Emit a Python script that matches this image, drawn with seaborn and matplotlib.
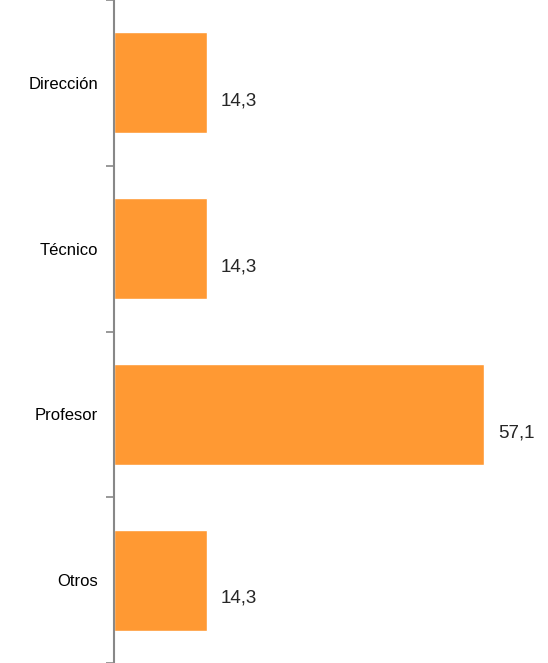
import pandas as pd
import numpy as np
import matplotlib
matplotlib.use('Agg')
import matplotlib.pyplot as plt
import seaborn as sns
from matplotlib.ticker import FixedLocator

# datos
categorias = ['Dirección', 'Técnico', 'Profesor', 'Otros']
valores = [14.3, 14.3, 57.1, 14.3]
etiquetas = ['14,3', '14,3', '57,1', '14,3']

sns.set_style('white')
plt.rcParams['font.family'] = ['Liberation Sans', 'DejaVu Sans']

df = pd.DataFrame({'cat': categorias, 'val': valores})

fig = plt.figure(figsize=(5.48, 6.63), dpi=100)
ax = fig.add_axes([114 / 548, 0, 1 - 114 / 548, 1])
sns.barplot(data=df, x='val', y='cat', orient='h', color='#FF9933',
            saturation=1, width=0.61, ax=ax)

ax.set_xlim(0, 66.9)
ax.set_ylim(3.5, -0.5)
ax.set_xlabel('')
ax.set_ylabel('')
ax.set_xticks([])

# ticks en los limites de cada categoria
ax.yaxis.set_minor_locator(FixedLocator(np.arange(-0.5, 4, 1)))
ax.tick_params(axis='y', which='major', length=0, pad=11.5, labelsize=12, colors='black')
ax.tick_params(axis='y', which='minor', length=6, width=1.2, color='#888888', left=True)

for s in ['top', 'right', 'bottom']:
    ax.spines[s].set_visible(False)
ax.spines['left'].set_color('#888888')
ax.spines['left'].set_linewidth(1.5)

# etiquetas de valores
for i, (v, t) in enumerate(zip(valores, etiquetas)):
    ax.text(v + 2.2, i + 0.11, t, va='center', ha='left', fontsize=13.5)

fig.savefig('out.png', dpi=100)
